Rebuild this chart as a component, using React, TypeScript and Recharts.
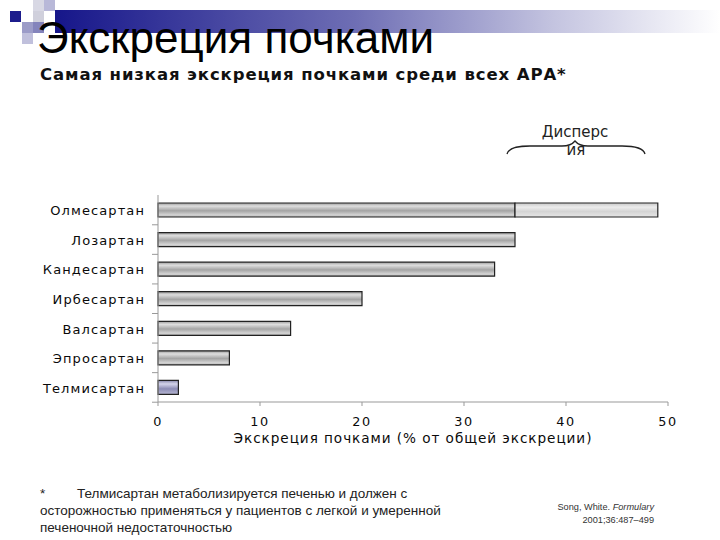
import React from 'react';
import { BarChart, Bar, Cell, XAxis, YAxis, Label } from 'recharts';

const drugs = ['Олмесартан', 'Лозартан', 'Кандесартан', 'Ирбесартан', 'Валсартан', 'Эпросартан', 'Телмисартан'];
const excretion = [35, 35, 33, 20, 13, 7, 2];
const dispersion = [14, 0, 0, 0, 0, 0, 0];
const xTicks = [0, 10, 20, 30, 40, 50];

const chartData = drugs.map((name, i) => ({
  name,
  excretion: excretion[i],
  dispersion: dispersion[i],
}));

const tickFont = '"DejaVu Sans", Verdana, sans-serif';

const YTick = (props: any) => {
  const { y, payload } = props;
  return (
    <g>
      <text
        x={145}
        y={y + 1}
        textAnchor="end"
        dominantBaseline="central"
        fontFamily={tickFont}
        fontSize={13}
        letterSpacing={1.1}
        fill="#0a0a0a"
      >
        {payload.value}
      </text>
      <line x1={152} x2={158} y1={y + 15} y2={y + 15} stroke="#999" />
    </g>
  );
};

const XTick = (props: any) => {
  const { x, y, payload } = props;
  return (
    <text
      x={x}
      y={y + 18}
      textAnchor="middle"
      fontFamily={tickFont}
      fontSize={12.8}
      letterSpacing={1.5}
      fill="#0a0a0a"
    >
      {payload.value}
    </text>
  );
};

const App: React.FC = () => {
  return (
    <div style={{ position: 'absolute', left: 0, top: 0, width: 720, height: 540, background: '#fff', overflow: 'hidden' }}>
      {/* header decoration */}
      <svg width={720} height={72} style={{ position: 'absolute', left: 0, top: 0 }}>
        <defs>
          <linearGradient id="band" x1="0" y1="0" x2="1" y2="0">
            <stop offset="0%" stopColor="#16168a" />
            <stop offset="45%" stopColor="#6e6eb4" />
            <stop offset="75%" stopColor="#c4c4e0" />
            <stop offset="100%" stopColor="#ffffff" />
          </linearGradient>
        </defs>
        <rect x={55} y={10} width={665} height={23} fill="url(#band)" />
        <rect x={10} y={11} width={11} height={11} fill="#1c1c8c" />
        <rect x={33} y={0} width={11} height={11} fill="#d8d8e4" />
        <rect x={44} y={0} width={11} height={11} fill="#b8b8d8" />
        <rect x={33} y={11} width={11} height={11} fill="#d0d0dc" />
        <rect x={22} y={22} width={11} height={11} fill="#9c9cc8" />
        <rect x={33} y={22} width={11} height={11} fill="#8484bc" />
        <rect x={22} y={33} width={11} height={11} fill="#c0c0dc" />
        <text x={37} y={53} fontFamily='"Liberation Sans", Arial, sans-serif' fontSize={44} fill="#000">
          Экскреция почками
        </text>
      </svg>
      <div
        style={{
          position: 'absolute',
          left: 40,
          top: 65,
          fontFamily: tickFont,
          fontWeight: 'bold',
          fontSize: 16.5,
          letterSpacing: 0.9,
          color: '#111',
          whiteSpace: 'nowrap',
        }}
      >
        Самая низкая экскреция почками среди всех АРА*
      </div>

      {/* dispersion brace */}
      <svg width={720} height={540} style={{ position: 'absolute', left: 0, top: 0 }}>
        <text x={575} y={137} textAnchor="middle" fontFamily={tickFont} fontSize={15} fill="#222">
          Дисперс
        </text>
        <text x={576} y={155} textAnchor="middle" fontFamily={tickFont} fontSize={15} fill="#222">
          ия
        </text>
        <path
          d="M507 154 Q509 146 530 146 L562 146 Q571 146 575 141 Q579 146 588 146 L622 146 Q643 146 645 154"
          fill="none"
          stroke="#222"
          strokeWidth={1.3}
        />
      </svg>

      <div style={{ position: 'absolute', left: 0, top: 0 }}>
        <BarChart
          width={720}
          height={540}
          data={chartData}
          layout="vertical"
          margin={{ top: 195, right: 52, bottom: 108, left: 0 }}
          barSize={14}
        >
          <defs>
            <linearGradient id="grayBar" x1="0" y1="0" x2="0" y2="1">
              <stop offset="0%" stopColor="#9a9a9a" />
              <stop offset="22%" stopColor="#dedede" />
              <stop offset="55%" stopColor="#a4a4a4" />
              <stop offset="85%" stopColor="#d4d4d4" />
              <stop offset="100%" stopColor="#b4b4b4" />
            </linearGradient>
            <linearGradient id="lightBar" x1="0" y1="0" x2="0" y2="1">
              <stop offset="0%" stopColor="#c8c8c8" />
              <stop offset="30%" stopColor="#ececec" />
              <stop offset="60%" stopColor="#d4d4d4" />
              <stop offset="100%" stopColor="#e6e6e6" />
            </linearGradient>
            <linearGradient id="blueBar" x1="0" y1="0" x2="0" y2="1">
              <stop offset="0%" stopColor="#8686aa" />
              <stop offset="25%" stopColor="#d4d4ea" />
              <stop offset="60%" stopColor="#8c8cb4" />
              <stop offset="100%" stopColor="#b8b8d4" />
            </linearGradient>
          </defs>
          <XAxis
            type="number"
            domain={[0, 50]}
            ticks={xTicks}
            height={30}
            axisLine={{ stroke: '#999' }}
            tickLine={{ stroke: '#999' }}
            tickSize={4}
            tick={<XTick />}
          >
            <Label
              value="Экскреция почками (% от общей экскреции)"
              position="bottom"
              offset={1}
              style={{ fontFamily: tickFont, fontSize: 13.6, letterSpacing: 0.95, fill: '#0a0a0a' }}
            />
          </XAxis>
          <YAxis
            type="category"
            dataKey="name"
            width={158}
            axisLine={{ stroke: '#999' }}
            tickLine={false}
            tick={<YTick />}
          />
          <Bar dataKey="excretion" stackId="a" fill="url(#grayBar)" stroke="#222" strokeWidth={1.2} isAnimationActive={false}>
            {chartData.map((d, i) => (
              <Cell key={`c-${i}`} fill={d.name === 'Телмисартан' ? 'url(#blueBar)' : 'url(#grayBar)'} />
            ))}
          </Bar>
          <Bar dataKey="dispersion" stackId="a" fill="url(#lightBar)" stroke="#222" strokeWidth={1.2} isAnimationActive={false} />
        </BarChart>
      </div>

      {/* footnotes */}
      <div
        style={{
          position: 'absolute',
          left: 40,
          top: 485,
          width: 460,
          fontFamily: '"Liberation Sans", Arial, sans-serif',
          fontSize: 13.5,
          lineHeight: '17px',
          color: '#222',
          whiteSpace: 'nowrap',
        }}
      >
        <div>
          <span style={{ display: 'inline-block', width: 37 }}>*</span>Телмисартан метаболизируется печенью и должен с
        </div>
        <div>осторожностью применяться у пациентов с легкой и умеренной</div>
        <div>печеночной недостаточностью</div>
      </div>
      <div
        style={{
          position: 'absolute',
          right: 66,
          top: 501,
          textAlign: 'right',
          fontFamily: '"Liberation Sans", Arial, sans-serif',
          fontSize: 9.2,
          lineHeight: '13px',
          color: '#333',
        }}
      >
        <div>
          Song, White. <i>Formulary</i>
        </div>
        <div>2001;36:487–499</div>
      </div>
    </div>
  );
};

export default App;
